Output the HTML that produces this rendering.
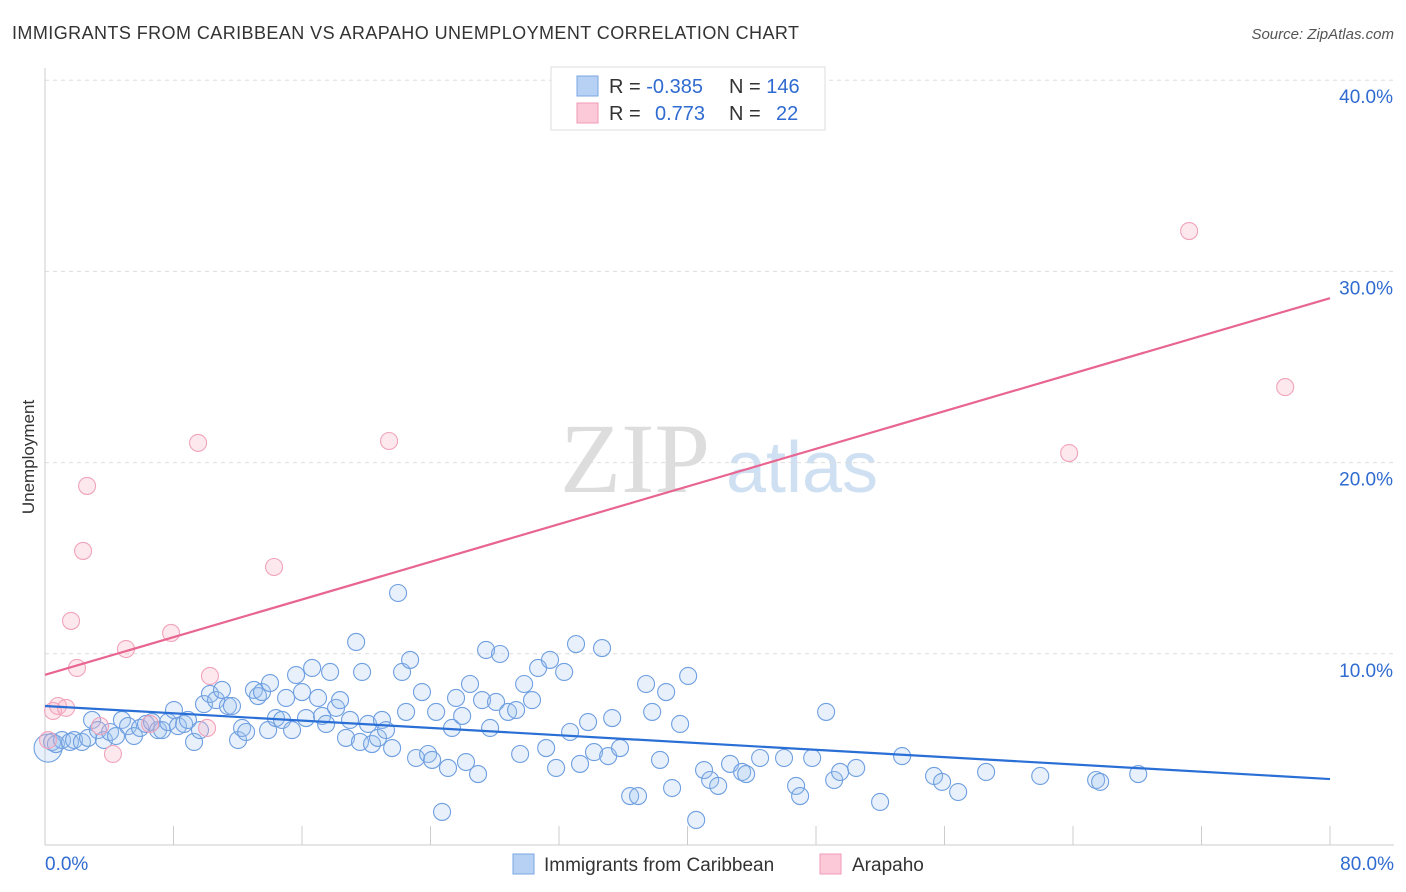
<!DOCTYPE html>
<html><head><meta charset="utf-8"><style>
body{margin:0;background:#fff;font-family:"Liberation Sans",sans-serif}
svg{display:block}
</style></head><body>
<svg id="chart" width="1406" height="892">
<text x="12" y="39" font-size="18" fill="#333" textLength="787">IMMIGRANTS FROM CARIBBEAN VS ARAPAHO UNEMPLOYMENT CORRELATION CHART</text>
<text x="1394" y="39" font-size="15" fill="#555" font-style="italic" text-anchor="end">Source: ZipAtlas.com</text>
<text x="34" y="457" font-size="17" fill="#333" transform="rotate(-90 34 457)" text-anchor="middle">Unemployment</text>
<g><text x="635" y="492" font-size="100" font-family="Liberation Serif" fill="#ddd" text-anchor="middle">ZIP</text><text x="802" y="492" font-size="72" fill="#cfe0f3" text-anchor="middle">atlas</text></g>
<g id="grid"></g><g id="axes"></g><g id="pts"></g><g id="trend"></g>
<g>
<rect x="551" y="67" width="274" height="63" fill="#fff" stroke="#ddd"/>
<rect x="577" y="76" width="21" height="20" fill="#b7d1f5" stroke="#7aa6e2"/>
<rect x="577" y="103" width="21" height="20" fill="#fbc9d7" stroke="#f09ab4"/>
<text x="609" y="93" font-size="20" fill="#333">R = <tspan fill="#2f6bd0">-0.385</tspan></text>
<text x="729" y="93" font-size="20" fill="#333">N = <tspan fill="#2f6bd0">146</tspan></text>
<text x="609" y="120" font-size="20" fill="#333">R = <tspan fill="#2f6bd0" x="655">0.773</tspan></text>
<text x="729" y="120" font-size="20" fill="#333">N = <tspan fill="#2f6bd0" x="776">22</tspan></text>
</g>
<g>
<rect x="513" y="854" width="21" height="20" fill="#b7d1f5" stroke="#7aa6e2"/>
<text x="544" y="871" font-size="19" fill="#333">Immigrants from Caribbean</text>
<rect x="820" y="854" width="21" height="20" fill="#fbc9d7" stroke="#f09ab4"/>
<text x="852" y="871" font-size="19" fill="#333">Arapaho</text>
</g>
</svg>
<script>
const blueX=[0.19,0.44,0.68,1.06,1.56,1.81,2.30,2.68,2.93,3.30,3.67,4.05,4.42,4.79,5.17,5.54,5.92,6.29,6.66,7.04,7.29,7.66,8.03,8.28,8.66,8.90,9.28,9.65,9.90,10.27,10.65,11.02,11.39,11.64,12.02,12.27,12.52,13.01,13.26,13.51,13.89,14.01,14.38,14.76,15.01,15.38,15.63,16.00,16.25,16.63,17.00,17.25,17.50,17.75,18.12,18.37,18.74,18.99,19.37,19.61,19.74,20.11,20.36,20.73,20.98,21.23,21.61,21.98,22.23,22.48,22.73,23.10,23.47,23.85,24.10,24.35,24.72,25.09,25.34,25.59,25.97,26.21,26.46,26.96,27.21,27.46,27.71,28.08,28.33,28.83,29.33,29.58,29.83,30.32,30.70,31.20,31.44,31.82,32.32,32.69,33.06,33.31,33.81,34.18,34.68,35.06,35.31,35.80,36.43,36.92,37.42,37.80,38.29,38.67,39.04,39.54,40.04,40.54,41.03,41.41,41.91,42.65,43.40,43.65,44.52,46.01,46.76,47.01,47.76,48.63,49.13,49.50,50.50,51.99,53.36,55.35,55.85,56.85,58.59,61.96,65.44,65.69,68.06];
const blueY=[5.07,5.39,5.28,5.49,5.39,5.49,5.39,5.60,6.54,6.01,5.49,5.91,5.70,6.54,6.22,5.70,6.12,6.33,6.43,6.01,6.01,6.43,7.06,6.22,6.33,6.54,5.39,6.01,7.37,7.90,7.58,8.11,7.27,7.27,5.49,6.12,5.91,8.11,7.79,8.00,6.01,8.47,6.64,6.54,7.69,6.01,8.89,8.00,6.64,9.26,7.69,6.75,6.33,9.05,7.17,7.58,5.60,6.54,10.62,5.39,9.05,6.33,5.28,5.60,6.54,6.01,5.07,13.18,9.05,6.96,9.68,4.55,8.00,4.76,4.45,6.96,1.73,4.03,6.12,7.69,6.75,4.34,8.42,3.71,7.58,10.20,6.12,7.48,9.99,6.96,7.06,4.76,8.42,7.58,9.26,5.07,9.68,4.03,9.05,5.91,10.51,4.24,6.43,4.86,10.30,4.65,6.64,5.07,2.56,2.56,8.42,6.96,4.45,8.00,2.98,6.33,8.84,1.31,3.92,3.40,3.09,4.24,3.82,3.71,4.55,4.55,3.09,2.56,4.55,6.96,3.40,3.82,4.03,2.25,4.65,3.61,3.30,2.77,3.82,3.61,3.40,3.30,3.71];
const pinkX=[0.19,0.50,0.81,1.31,1.62,1.99,2.37,2.62,3.43,4.23,5.04,6.54,7.85,9.53,10.09,10.27,14.26,21.42,63.76,71.23,77.21];
const pinkY=[5.49,7.01,7.27,7.17,11.72,9.26,15.38,18.78,6.22,4.76,10.25,6.33,11.09,21.03,6.12,8.84,14.54,21.13,20.50,32.11,23.95];
const blueTrend=[7.27,3.45];
const pinkTrend=[8.9,28.6];
const yTicks=[10,20,30,40];
const xTickLabels=["0.0%","80.0%"];
const NS="http://www.w3.org/2000/svg";
const sx=v=>45+v*(1285/80), sy=v=>845-v*19.12;
function mk(t,a,p){const e=document.createElementNS(NS,t);for(const k in a)e.setAttribute(k,a[k]);document.getElementById(p).appendChild(e);return e;}
yTicks.forEach(t=>{
 const l=mk('line',{x1:45,x2:1394,y1:sy(t),y2:sy(t),stroke:'#ddd','stroke-dasharray':'4,4'},'grid');
 
 
 const tx=mk('text',{x:1393,y:sy(t)+23,'font-size':19,fill:'#2f6bd0','text-anchor':'end'},'grid');
 tx.textContent=t.toFixed(1)+'%';
 
 
});
let a=mk('line',{x1:45,x2:45,y1:68,y2:845,stroke:'#ccc'},'axes');


a=mk('line',{x1:45,x2:1394,y1:845,y2:845,stroke:'#ccc'},'axes');


for(let i=0;i<=10;i++){const t=mk('line',{x1:sx(i*8),x2:sx(i*8),y1:826,y2:845,stroke:'#ccc'},'axes');
 
 }
[[0,'start',45],[80,'end',1394]].forEach((d,i)=>{const t=mk('text',{x:d[2],y:870,'font-size':19,fill:'#2f6bd0','text-anchor':d[1]},'axes');t.textContent=xTickLabels[i];
 
 });
blueX.forEach((x,i)=>{const c=mk('circle',{cx:sx(x),cy:sy(blueY[i]),r:i==0?14:8.5,fill:'rgba(158,194,240,0.25)',stroke:'#6f9fe0','stroke-width':1.1},'pts');
 
 });
pinkX.forEach((x,i)=>{const c=mk('circle',{cx:sx(x),cy:sy(pinkY[i]),r:8.5,fill:'rgba(248,180,200,0.3)',stroke:'#f0a3bb','stroke-width':1.1},'pts');
 
 });
let tl=mk('line',{x1:sx(0),x2:sx(80),y1:sy(blueTrend[0]),y2:sy(blueTrend[1]),stroke:'#2a6fd6','stroke-width':2.2},'trend');


tl=mk('line',{x1:sx(0),x2:sx(80),y1:sy(pinkTrend[0]),y2:sy(pinkTrend[1]),stroke:'#e86592','stroke-width':2.2},'trend');


</script>
</body></html>
